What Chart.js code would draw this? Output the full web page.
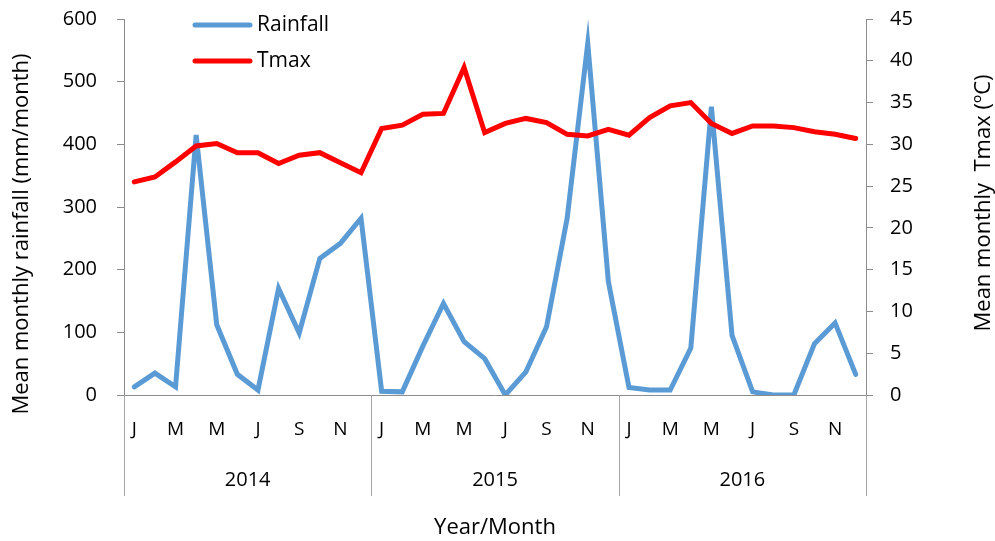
<!DOCTYPE html>
<html>
<head>
<meta charset="utf-8">
<script src="https://cdn.jsdelivr.net/npm/chart.js@4/dist/chart.umd.min.js"></script>
<style>
  html, body { margin: 0; padding: 0; background: #ffffff; }
  #wrap { width: 995px; height: 541px; position: relative; }
</style>
</head>
<body>
<div id="wrap"><canvas id="c" width="995" height="541"></canvas></div>
<script>
// ---- Data ----
const monthLetters = ['J','F','M','A','M','J','J','A','S','O','N','D'];
const years = ['2014', '2015', '2016'];
const rainfall = [
  13, 35, 13, 415, 112, 33, 8, 170, 99, 218, 242, 282,
  6, 5, 78, 146, 85, 58, 0, 37, 109, 282, 561, 181,
  12, 8, 8, 75, 460, 95, 5, 0, 0, 82, 115, 33
];
const tmax = [
  25.5, 26.1, 27.9, 29.8, 30.1, 29.0, 29.0, 27.7, 28.7, 29.0, 27.8, 26.6,
  31.9, 32.3, 33.6, 33.7, 39.2, 31.4, 32.5, 33.1, 32.6, 31.2, 31.0, 31.8,
  31.1, 33.2, 34.6, 35.0, 32.5, 31.3, 32.2, 32.2, 32.0, 31.5, 31.2, 30.7
];
const rainTicks = [0, 100, 200, 300, 400, 500, 600];
const tempTicks = [0, 5, 10, 15, 20, 25, 30, 35, 40, 45];
const labels = [];
years.forEach(y => monthLetters.forEach(m => labels.push(m)));

const FONT = "'Open Sans', 'Noto Sans', sans-serif";
const AXIS_GRAY = '#8c8c8c';
const RAIN_COLOR = '#5b9bd5';
const TMAX_COLOR = '#ff0000';

const extras = {
  id: 'extras',
  afterDraw(chart) {
    const ctx = chart.ctx;
    const x = chart.scales.x;
    const area = chart.chartArea;
    ctx.save();
    // year group separators
    ctx.strokeStyle = '#a6a6a6';
    ctx.lineWidth = 1;
    const n = labels.length;
    const step = (x.right - x.left) / n;
    for (let i = 0; i <= years.length; i++) {
      const px = Math.round(x.left + i * 12 * step) + 0.5;
      ctx.beginPath();
      ctx.moveTo(px, area.bottom);
      ctx.lineTo(px, area.bottom + 101);
      ctx.stroke();
    }
    // year labels
    ctx.fillStyle = '#000';
    ctx.font = "20px " + FONT;
    ctx.textAlign = 'center';
    ctx.textBaseline = 'middle';
    years.forEach((y, i) => {
      const cx = x.left + (i * 12 + 6) * step;
      ctx.fillText(y, cx, 480);
    });
    // left axis title
    ctx.save();
    ctx.translate(22, 234);
    ctx.rotate(-Math.PI / 2);
    ctx.font = "22px " + FONT;
    ctx.fillText('Mean monthly rainfall (mm/month)', 0, 0);
    ctx.restore();
    // right axis title
    ctx.save();
    ctx.translate(984, 203);
    ctx.rotate(-Math.PI / 2);
    ctx.font = "22px " + FONT;
    ctx.fillText('Mean monthly  Tmax (ºC)', 0, 0);
    ctx.restore();
    // legend inside plot
    const items = chart.data.datasets.slice().sort((a, b) => a.legendIndex - b.legendIndex);
    ctx.font = "21px " + FONT;
    ctx.textAlign = 'left';
    items.forEach((ds, i) => {
      const ly = 25 + i * 36;
      ctx.strokeStyle = ds.borderColor;
      ctx.lineWidth = 5;
      ctx.lineCap = 'round';
      ctx.beginPath();
      ctx.moveTo(195, ly);
      ctx.lineTo(250, ly);
      ctx.stroke();
      ctx.fillStyle = '#000';
      ctx.fillText(ds.label, 257, ly);
    });
    ctx.restore();
  }
};

new Chart(document.getElementById('c'), {
  type: 'line',
  data: {
    labels: labels,
    datasets: [
      {
        label: 'Rainfall', data: rainfall, yAxisID: 'y', legendIndex: 0, order: 2,
        borderColor: RAIN_COLOR, backgroundColor: RAIN_COLOR, borderWidth: 5,
        pointRadius: 0, tension: 0, borderCapStyle: 'round', borderJoinStyle: 'miter'
      },
      {
        label: 'Tmax', data: tmax, yAxisID: 'y2', legendIndex: 1, order: 1,
        borderColor: TMAX_COLOR, backgroundColor: TMAX_COLOR, borderWidth: 5,
        pointRadius: 0, tension: 0, borderCapStyle: 'round', borderJoinStyle: 'miter'
      }
    ]
  },
  options: {
    responsive: false,
    animation: false,
    devicePixelRatio: 1,
    layout: { padding: { top: 19, left: 0, right: 0, bottom: 0 } },
    plugins: { legend: { display: false }, tooltip: { enabled: false } },
    scales: {
      x: {
        type: 'category',
        offset: true,
        grid: { display: false },
        border: { display: true, color: AXIS_GRAY, width: 1 },
        ticks: {
          autoSkip: false, maxRotation: 0, minRotation: 0,
          padding: 15,
          color: '#000',
          font: { family: FONT, size: 19 },
          callback: (v, i) => (i % 2 === 0 ? labels[i] : '')
        },
        title: {
          display: true, text: 'Year/Month', color: '#000',
          font: { family: FONT, size: 22, lineHeight: 1.2 },
          padding: { top: 0, bottom: 0 }
        },
        afterFit: s => { s.height = 146; s.paddingLeft = 0; s.paddingRight = 0; }
      },
      y: {
        position: 'left',
        min: 0, max: 600,
        afterBuildTicks: s => { s.ticks = rainTicks.map(v => ({ value: v })); },
        grid: { display: true, drawOnChartArea: false, drawTicks: true, tickLength: 7, color: AXIS_GRAY },
        border: { display: true, color: AXIS_GRAY, width: 1 },
        ticks: { padding: 20, color: '#000', font: { family: FONT, size: 20 } },
        afterFit: s => { s.width = 124; s.paddingTop = 0; s.paddingBottom = 0; }
      },
      y2: {
        position: 'right',
        min: 0, max: 45,
        afterBuildTicks: s => { s.ticks = tempTicks.map(v => ({ value: v })); },
        grid: { display: true, drawOnChartArea: false, drawTicks: true, tickLength: 7, color: AXIS_GRAY },
        border: { display: true, color: AXIS_GRAY, width: 1 },
        ticks: { padding: 17, color: '#000', font: { family: FONT, size: 20 } },
        afterFit: s => { s.width = 129; s.paddingTop = 0; s.paddingBottom = 0; }
      }
    }
  },
  plugins: [extras]
});
</script>
</body>
</html>
